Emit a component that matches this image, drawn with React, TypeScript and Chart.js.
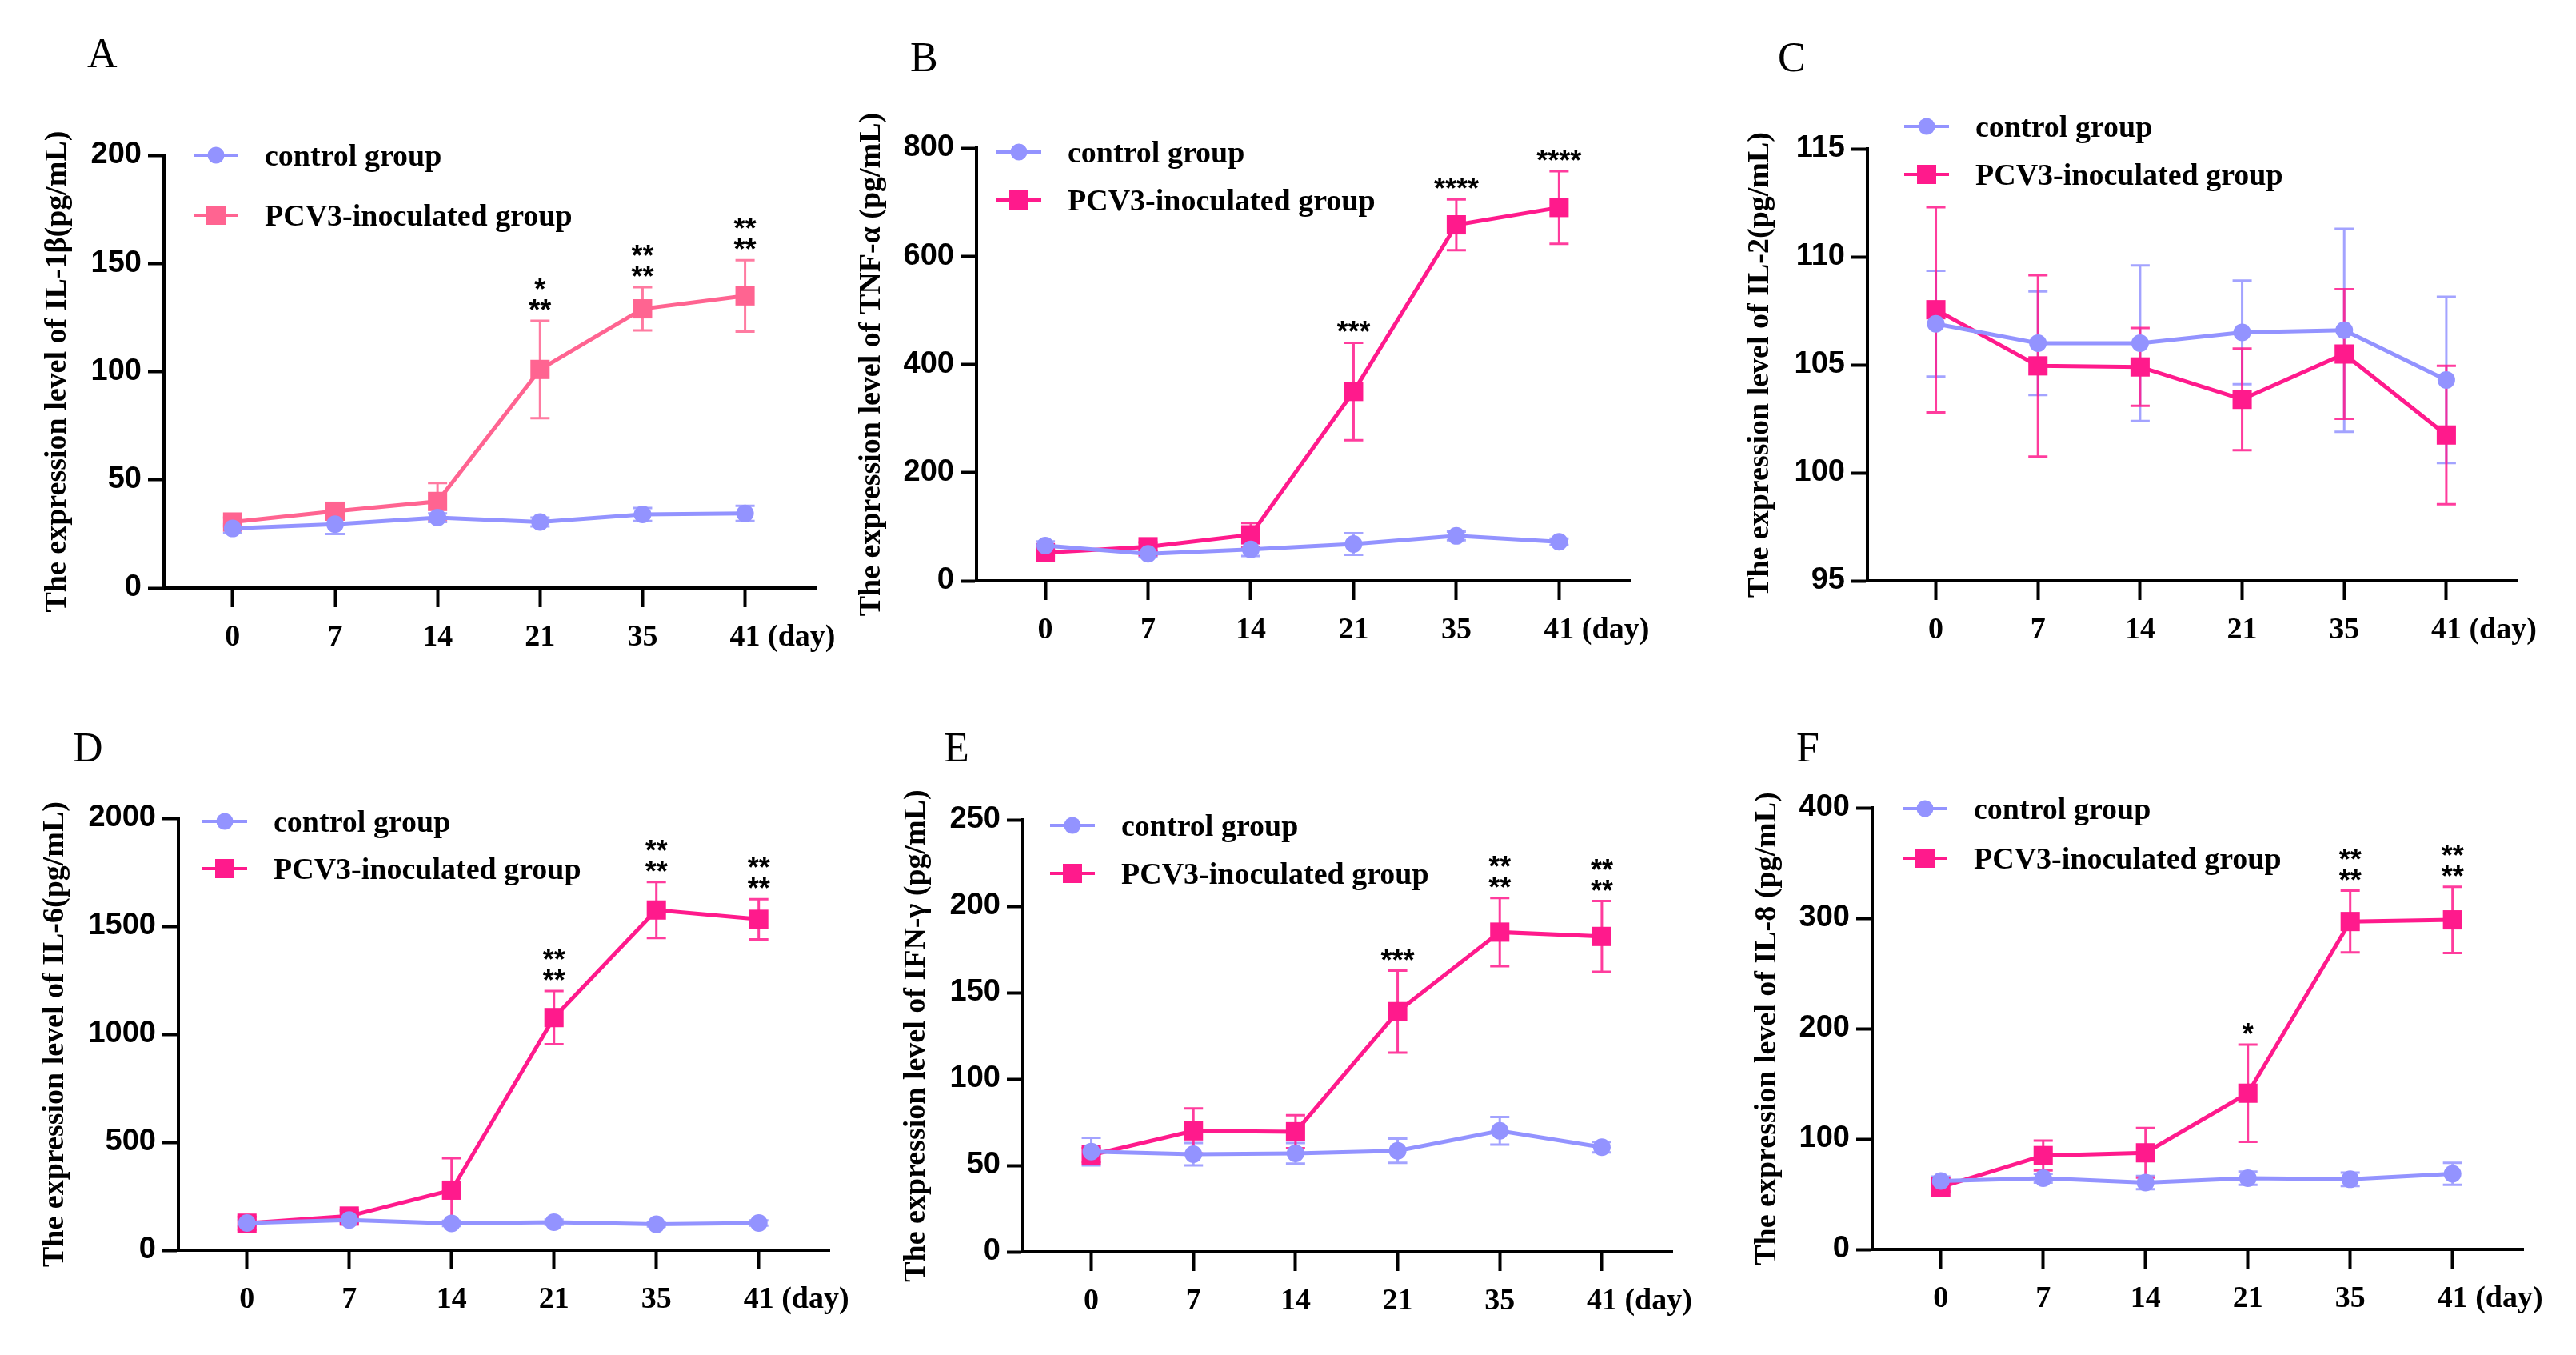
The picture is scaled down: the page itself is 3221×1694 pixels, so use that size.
import { useEffect, useRef } from 'react';
import { Chart, registerables } from 'chart.js';

Chart.register(...registerables);

// ---- data ----
const days = ['0', '7', '14', '21', '35', '41'];
const seriesNames = ['control group', 'PCV3-inoculated group'];

// A: IL-1β
const il1bTicks = [0, 50, 100, 150, 200];
const il1bControl = [27.5, 29.5, 32.5, 30.5, 34, 34.5];
const il1bControlSd = [2, 4.5, 2, 2, 3, 3.5];
const il1bPcv3 = [30.5, 35.5, 40, 101, 129, 135];
const il1bPcv3Sd = [2, 2.5, 8.5, 22.5, 10, 16.5];
const il1bStars = [[], [], [], ['*', '**'], ['**', '**'], ['**', '**']];

// B: TNF-α
const tnfTicks = [0, 200, 400, 600, 800];
const tnfControl = [65, 50, 58, 68, 83, 72];
const tnfControlSd = [8, 6, 12, 20, 8, 6];
const tnfPcv3 = [52, 63, 85, 350, 658, 690];
const tnfPcv3Sd = [6, 8, 22, 90, 47, 67];
const tnfStars = [[], [], [], ['***'], ['****'], ['****']];

// C: IL-2
const il2Ticks = [95, 100, 105, 110, 115];
const il2Control = [106.9, 106.0, 106.0, 106.5, 106.6, 104.3];
const il2ControlSd = [2.45, 2.4, 3.6, 2.4, 4.7, 3.85];
const il2Pcv3 = [107.55, 104.95, 104.9, 103.4, 105.5, 101.75];
const il2Pcv3Sd = [4.75, 4.2, 1.8, 2.35, 3.0, 3.2];
const il2Stars = [[], [], [], [], [], []];

// D: IL-6
const il6Ticks = [0, 500, 1000, 1500, 2000];
const il6Control = [126, 140, 124, 130, 120, 126];
const il6ControlSd = [15, 15, 12, 12, 10, 12];
const il6Pcv3 = [125, 158, 278, 1077, 1575, 1532];
const il6Pcv3Sd = [30, 25, 148, 123, 130, 93];
const il6Stars = [[], [], [], ['**', '**'], ['**', '**'], ['**', '**']];

// E: IFN-γ
const ifnTicks = [0, 50, 100, 150, 200, 250];
const ifnControl = [58, 56.5, 57, 58.5, 70, 60.5];
const ifnControlSd = [8, 6.5, 6, 7, 8, 3];
const ifnPcv3 = [56, 70, 69.5, 139, 185, 182.5];
const ifnPcv3Sd = [4, 13, 9.5, 23.7, 19.7, 20.5];
const ifnStars = [[], [], [], ['***'], ['**', '**'], ['**', '**']];

// F: IL-8
const il8Ticks = [0, 100, 200, 300, 400];
const il8Control = [62, 64.5, 60.5, 64.5, 63.5, 68.5];
const il8ControlSd = [4, 4, 6, 6, 6, 10];
const il8Pcv3 = [56.5, 85, 87.5, 141.5, 297, 298.5];
const il8Pcv3Sd = [4, 13.5, 22.5, 44, 28, 30];
const il8Stars = [[], [], [], ['*'], ['**', '**'], ['**', '**']];

// ---- styles / layout ----
const CONTROL = '#9393FF';
const PINK_A = '#FF6491';
const PINK = '#FF1A8C';
const SERIF = "'Liberation Serif', 'Times New Roman', serif";
const SANS = "'Liberation Sans', Arial, sans-serif";
const X_MIN = -0.67;
const X_MAX = 5.69;
const X_AXIS_H = 100;
const X_TICK_LEN = 24;
const X_TICK_PAD = 15;
const X_FONT_SIZE = 38;

interface Panel {
  letter: string;
  title: string;
  yTicks: number[];
  control: number[];
  controlSd: number[];
  pcv3: number[];
  pcv3Sd: number[];
  stars: string[][];
  pink: string;
  cell: { x: number; y: number; w: number; h: number };
  plot: { l: number; t: number; r: number; b: number };
  titleX: number;
  letterPos: [number, number];
  legend: { dx: number; dy: number; gap: number };
}

const panels: Panel[] = [
  {
    letter: 'A', title: 'The expression level of IL-1β(pg/mL)', yTicks: il1bTicks,
    control: il1bControl, controlSd: il1bControlSd, pcv3: il1bPcv3, pcv3Sd: il1bPcv3Sd, stars: il1bStars,
    pink: PINK_A,
    cell: { x: 0, y: 0, w: 1060, h: 850 }, plot: { l: 205, t: 194, r: 1020, b: 735 }, titleX: 72,
    letterPos: [109, 84], legend: { dx: 37, dy: 0, gap: 75 },
  },
  {
    letter: 'B', title: 'The expression level of TNF-α (pg/mL)', yTicks: tnfTicks,
    control: tnfControl, controlSd: tnfControlSd, pcv3: tnfPcv3, pcv3Sd: tnfPcv3Sd, stars: tnfStars,
    pink: PINK,
    cell: { x: 1060, y: 0, w: 1070, h: 850 }, plot: { l: 1221, t: 185, r: 2038, b: 726 }, titleX: 1090,
    letterPos: [78, 89], legend: { dx: 25, dy: 5, gap: 60 },
  },
  {
    letter: 'C', title: 'The expression level of IL-2(pg/mL)', yTicks: il2Ticks,
    control: il2Control, controlSd: il2ControlSd, pcv3: il2Pcv3, pcv3Sd: il2Pcv3Sd, stars: il2Stars,
    pink: PINK,
    cell: { x: 2130, y: 0, w: 1091, h: 850 }, plot: { l: 2335, t: 186, r: 3147, b: 726 }, titleX: 2201,
    letterPos: [93, 89], legend: { dx: 46, dy: -28, gap: 60 },
  },
  {
    letter: 'D', title: 'The expression level of IL-6(pg/mL)', yTicks: il6Ticks,
    control: il6Control, controlSd: il6ControlSd, pcv3: il6Pcv3, pcv3Sd: il6Pcv3Sd, stars: il6Stars,
    pink: PINK,
    cell: { x: 0, y: 850, w: 1060, h: 844 }, plot: { l: 223, t: 1023, r: 1037, b: 1563 }, titleX: 69,
    letterPos: [91, 102], legend: { dx: 30, dy: 4, gap: 59 },
  },
  {
    letter: 'E', title: 'The expression level of IFN-γ (pg/mL)', yTicks: ifnTicks,
    control: ifnControl, controlSd: ifnControlSd, pcv3: ifnPcv3, pcv3Sd: ifnPcv3Sd, stars: ifnStars,
    pink: PINK,
    cell: { x: 1060, y: 850, w: 1070, h: 844 }, plot: { l: 1279, t: 1025, r: 2091, b: 1565 }, titleX: 1146,
    letterPos: [120, 102], legend: { dx: 34, dy: 7, gap: 60 },
  },
  {
    letter: 'F', title: 'The expression level of IL-8 (pg/mL)', yTicks: il8Ticks,
    control: il8Control, controlSd: il8ControlSd, pcv3: il8Pcv3, pcv3Sd: il8Pcv3Sd, stars: il8Stars,
    pink: PINK,
    cell: { x: 2130, y: 850, w: 1091, h: 844 }, plot: { l: 2341, t: 1010, r: 3155, b: 1562 }, titleX: 2210,
    letterPos: [116, 102], legend: { dx: 38, dy: 1, gap: 62 },
  },
];

// error bars, legend, asterisks, panel letter and the "(day)" unit
const decorPlugin = {
  id: 'panelDecor',
  beforeDatasetsDraw(chart: any) {
    const { ctx } = chart;
    const xs = chart.scales.x;
    const ys = chart.scales.y;
    chart.data.datasets.forEach((ds: any) => {
      const sd: number[] = ds.errorBars;
      if (!sd) return;
      ctx.save();
      ctx.strokeStyle = ds.borderColor;
      ctx.globalAlpha = 0.85;
      ctx.lineWidth = 3;
      ds.data.forEach((p: any, i: number) => {
        const px = xs.getPixelForValue(p.x);
        const top = ys.getPixelForValue(p.y + sd[i]);
        const bot = ys.getPixelForValue(p.y - sd[i]);
        ctx.beginPath();
        ctx.moveTo(px, top);
        ctx.lineTo(px, bot);
        ctx.moveTo(px - 12, top);
        ctx.lineTo(px + 12, top);
        ctx.moveTo(px - 12, bot);
        ctx.lineTo(px + 12, bot);
        ctx.stroke();
      });
      ctx.restore();
    });
  },
  afterDraw(chart: any, _args: any, opts: any) {
    const { ctx, chartArea } = chart;
    const xs = chart.scales.x;
    const ys = chart.scales.y;
    ctx.save();

    // panel letter
    ctx.fillStyle = '#000';
    ctx.font = `52px ${SERIF}`;
    ctx.textAlign = 'left';
    ctx.textBaseline = 'alphabetic';
    ctx.fillText(opts.letter, opts.letterPos[0], opts.letterPos[1]);

    // legend
    chart.data.datasets.forEach((ds: any, di: number) => {
      const ly = chartArea.top + opts.legend.dy + di * opts.legend.gap;
      const lx = chartArea.left + opts.legend.dx;
      ctx.strokeStyle = ds.borderColor;
      ctx.fillStyle = ds.borderColor;
      ctx.lineWidth = 4;
      ctx.beginPath();
      ctx.moveTo(lx, ly);
      ctx.lineTo(lx + 56, ly);
      ctx.stroke();
      if (ds.pointStyle === 'rect') {
        ctx.fillRect(lx + 28 - 12, ly - 12, 24, 24);
      } else {
        ctx.beginPath();
        ctx.arc(lx + 28, ly, 10.5, 0, Math.PI * 2);
        ctx.fill();
      }
      ctx.fillStyle = '#000';
      ctx.font = `bold 38px ${SERIF}`;
      ctx.textBaseline = 'middle';
      ctx.fillText(ds.label, lx + 89, ly + 3);
    });

    // significance asterisks above the PCV3 error bars
    const pcv = chart.data.datasets[1];
    ctx.font = `bold 36px ${SANS}`;
    ctx.textAlign = 'center';
    ctx.textBaseline = 'alphabetic';
    ctx.fillStyle = '#000';
    (opts.stars as string[][]).forEach((lines, i) => {
      if (!lines.length) return;
      const p = pcv.data[i];
      const base = ys.getPixelForValue(p.y + pcv.errorBars[i]) - 21;
      const px = xs.getPixelForValue(p.x);
      lines.forEach((s, k) => {
        const cy = base - (lines.length - 1 - k) * 26;
        ctx.fillText(s, px, cy + 20);
      });
    });

    // unit after the last day label
    ctx.font = `bold ${X_FONT_SIZE}px ${SERIF}`;
    ctx.textAlign = 'left';
    ctx.textBaseline = 'middle';
    const lastX = xs.getPixelForValue(days.length - 1);
    const w = ctx.measureText(days[days.length - 1]).width;
    const sp = ctx.measureText(' ').width;
    const ly = xs.top + X_TICK_LEN + X_TICK_PAD + (X_FONT_SIZE * 1.2) / 2;
    ctx.fillText('(day)', lastX + w / 2 + sp, ly);

    ctx.restore();
  },
};

function PanelChart({ panel }: { panel: Panel }) {
  const canvasRef = useRef<HTMLCanvasElement>(null);

  useEffect(() => {
    if (!canvasRef.current) return;
    const { cell, plot } = panel;
    const titleLeft = panel.titleX - 19;
    const yWidth = plot.l - titleLeft;
    const axisGrid = {
      display: true,
      drawOnChartArea: false,
      drawTicks: true,
      tickWidth: 4,
      tickColor: '#000',
      color: '#000',
    };
    const axisBorder = { display: true, color: '#000', width: 4 };

    const chart = new Chart(canvasRef.current, {
      type: 'line',
      data: {
        datasets: [
          {
            label: seriesNames[0],
            data: panel.control.map((v, i) => ({ x: i, y: v })),
            errorBars: panel.controlSd,
            borderColor: CONTROL,
            backgroundColor: CONTROL,
            borderWidth: 5,
            pointStyle: 'circle',
            pointRadius: 11,
            pointHoverRadius: 11,
            pointBorderWidth: 0,
            tension: 0,
          } as any,
          {
            label: seriesNames[1],
            data: panel.pcv3.map((v, i) => ({ x: i, y: v })),
            errorBars: panel.pcv3Sd,
            borderColor: panel.pink,
            backgroundColor: panel.pink,
            borderWidth: 5,
            pointStyle: 'rect',
            pointRadius: 17,
            pointHoverRadius: 17,
            pointBorderWidth: 0,
            tension: 0,
          } as any,
        ],
      },
      options: {
        animation: false,
        responsive: false,
        events: [],
        layout: {
          padding: {
            left: titleLeft - cell.x,
            top: plot.t - cell.y,
            right: cell.x + cell.w - plot.r,
            bottom: cell.y + cell.h - plot.b - X_AXIS_H,
          },
        },
        plugins: {
          legend: { display: false },
          tooltip: { enabled: false },
          panelDecor: {
            letter: panel.letter,
            letterPos: panel.letterPos,
            legend: panel.legend,
            stars: panel.stars,
          },
        } as any,
        scales: {
          x: {
            type: 'linear',
            min: X_MIN,
            max: X_MAX,
            afterBuildTicks: (s: any) => {
              s.ticks = days.map((_, i) => ({ value: i }));
            },
            afterFit: (s: any) => {
              s.height = X_AXIS_H;
            },
            ticks: {
              callback: (v: any) => days[v],
              color: '#000',
              font: { family: SERIF, weight: 'bold', size: X_FONT_SIZE },
              padding: X_TICK_PAD,
              maxRotation: 0,
              autoSkip: false,
            },
            grid: { ...axisGrid, tickLength: X_TICK_LEN },
            border: axisBorder,
          },
          y: {
            type: 'linear',
            min: panel.yTicks[0],
            max: panel.yTicks[panel.yTicks.length - 1],
            afterBuildTicks: (s: any) => {
              s.ticks = panel.yTicks.map((v) => ({ value: v }));
            },
            afterFit: (s: any) => {
              s.width = yWidth;
            },
            ticks: {
              callback: (v: any) => String(v),
              color: '#000',
              font: { family: SANS, weight: 'bold', size: 38 },
              padding: 8,
              autoSkip: false,
            },
            grid: { ...axisGrid, tickLength: 20 },
            border: axisBorder,
            title: {
              display: true,
              text: panel.title,
              color: '#000',
              font: { family: SERIF, weight: 'bold', size: 38, lineHeight: 1 },
              padding: 0,
            },
          },
        },
      } as any,
      plugins: [decorPlugin],
    });

    return () => {
      chart.destroy();
    };
  }, [panel]);

  return (
    <canvas
      ref={canvasRef}
      width={panel.cell.w}
      height={panel.cell.h}
      style={{
        position: 'absolute',
        left: panel.cell.x,
        top: panel.cell.y,
        width: panel.cell.w,
        height: panel.cell.h,
        display: 'block',
      }}
    />
  );
}

export default function App() {
  useEffect(() => {
    document.body.style.margin = '0';
    document.body.style.overflow = 'hidden';
  }, []);

  return (
    <div style={{ position: 'absolute', left: 0, top: 0, width: 3221, height: 1694, background: '#fff' }}>
      {panels.map((p) => (
        <PanelChart key={p.letter} panel={p} />
      ))}
    </div>
  );
}
